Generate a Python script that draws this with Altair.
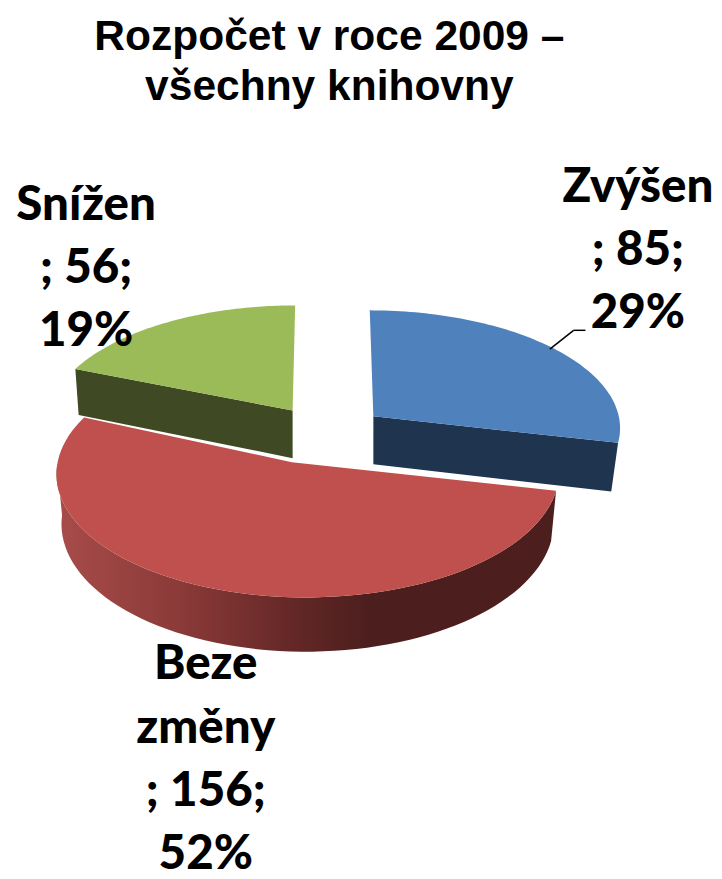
import math
import altair as alt

categories = ["Zvýšen", "Beze změny", "Snížen"]
values = [85, 156, 56]
colors_top = ["#4f81bd", "#c0504d", "#9bbb59"]
colors_wall = ["#1f344f", "#4a1f1e", "#3f4a24"]

title_lines = ["Rozpočet v roce 2009 –", "všechny knihovny"]
label_lines = [["Zvýšen", "; 85;", "29%"], ["Beze", "změny", "; 156;", "52%"], ["Snížen", "; 56;", "19%"]]
label_x = [645, 208, 87]
label_y = [185, 668, 203]
line_h = 64

CX, CY, A, B, P, D, E = 328.5, 434, 243, 119.5, 0.087, 49, 0.245
W, H = 706, 863
ox, oy = 8, 8

def proj(u, v, depth=0.0):
    k = 1.0 / (1 - P * v)
    return [CX + A * u * k - ox, CY + B * v * k + depth * k - oy]

total = sum(values)
start = 0.0
features, walls = [], []
rim_shift = [3, 1, 0]
apex_shift = [0, -16, 0]
x_stretch = [1.035, 1.02, 1.03]
depth_taper = [0.972, 0.98, 0.985]
for i, val in enumerate(values):
    a0 = start
    a1 = start + val / total * 2 * math.pi
    start = a1
    mid = (a0 + a1) / 2
    eu, ev = E * math.sin(mid), -E * math.cos(mid)
    def P_(a, r=1.0, depth=0.0):
        sx = x_stretch[i] * (depth_taper[i] if depth else 1.0)
        q = proj(eu + r * sx * math.sin(a), ev - r * math.cos(a), depth)
        return [q[0] + rim_shift[i] + (apex_shift[i] if r == 0 else 0), q[1]]
    n = 80
    angles = [a0 + (a1 - a0) * j / n for j in range(n + 1)]
    apex = P_(0, 0)
    rim = [P_(a) for a in angles]
    top = [apex] + rim + [apex]
    features.append({"type": "Feature", "properties": {"c": colors_top[i], "name": categories[i]},
                     "geometry": {"type": "Polygon", "coordinates": [top]}})
    apexd = P_(0, 0, D)
    if i == 0:
        poly = [apex, P_(a1), P_(a1, 1, D), apexd, apex]
        walls.append((poly, colors_wall[0]))
    if i == 2:
        poly = [apex, P_(a0), P_(a0, 1, D), apexd, apex]
        walls.append((poly, colors_wall[2]))
    if i == 1:
        arc = [a for a in angles if math.pi / 2 <= a <= 3 * math.pi / 2]
        poly = [P_(a) for a in arc] + [P_(a, 1, D) for a in arc[::-1]]
        poly.append(poly[0])
        red_side = poly

def geo(poly):
    return {"type": "Feature", "properties": {},
            "geometry": {"type": "Polygon", "coordinates": [poly]}}

def shape(f, fill):
    return alt.Chart(alt.Data(values=[f])).mark_geoshape(fill=fill, strokeWidth=0).project(
        type="identity", scale=1, translate=[0, 0])

layers = []
for poly, col in walls:
    layers.append(shape(geo(poly), col))
grad = alt.Gradient(gradient="linear", x1=0, x2=1, y1=0, y2=0, stops=[
    alt.GradientStop(offset=0, color="#a84c4a"),
    alt.GradientStop(offset=0.25, color="#8a3a38"),
    alt.GradientStop(offset=0.47, color="#642827"),
    alt.GradientStop(offset=0.62, color="#4c1f1e"),
    alt.GradientStop(offset=1, color="#4c1f1e")])
layers.append(shape(geo(red_side), grad))
for f in [features[2], features[0], features[1]]:
    layers.append(shape(f, f["properties"]["c"]))

xs = alt.Scale(domain=[0, W], range=[0, W], nice=False, zero=False)
ys = alt.Scale(domain=[0, H], range=[0, H], nice=False, zero=False)
rows = []
for i, lines in enumerate(label_lines):
    for j, t in enumerate(lines):
        rows.append({"x": label_x[i] - ox, "y": label_y[i] + j * line_h - oy, "t": t})
lab = alt.Chart(alt.Data(values=rows)).mark_text(font="Lato", fontWeight=900, fontSize=48, color="black", baseline="middle").encode(
    x=alt.X("x:Q", scale=xs, axis=None), y=alt.Y("y:Q", scale=ys, axis=None), text="t:N")
trows = [{"x": 333 - ox, "y": 33 + j * 50 - oy, "t": t} for j, t in enumerate(title_lines)]
tit = alt.Chart(alt.Data(values=trows)).mark_text(font="Liberation Sans", fontWeight="bold", fontSize=43, color="black", baseline="middle").encode(
    x=alt.X("x:Q", scale=xs, axis=None), y=alt.Y("y:Q", scale=ys, axis=None), text="t:N")
leader = alt.Chart(alt.Data(values=[{"x": 556 - ox, "y": 348 - oy, "x2": 580 - ox, "y2": 329 - oy}, {"x": 580 - ox, "y": 329 - oy, "x2": 592 - ox, "y2": 329 - oy}])).mark_rule(color="black", strokeWidth=1.5).encode(
    x=alt.X("x:Q", scale=xs, axis=None), y=alt.Y("y:Q", scale=ys, axis=None), x2="x2:Q", y2="y2:Q")

chart = alt.layer(*layers, leader, lab, tit).properties(width=W, height=H, padding=0).configure_view(stroke=None)
chart.save("out.html", embed_options={"renderer": "svg", "actions": False})
